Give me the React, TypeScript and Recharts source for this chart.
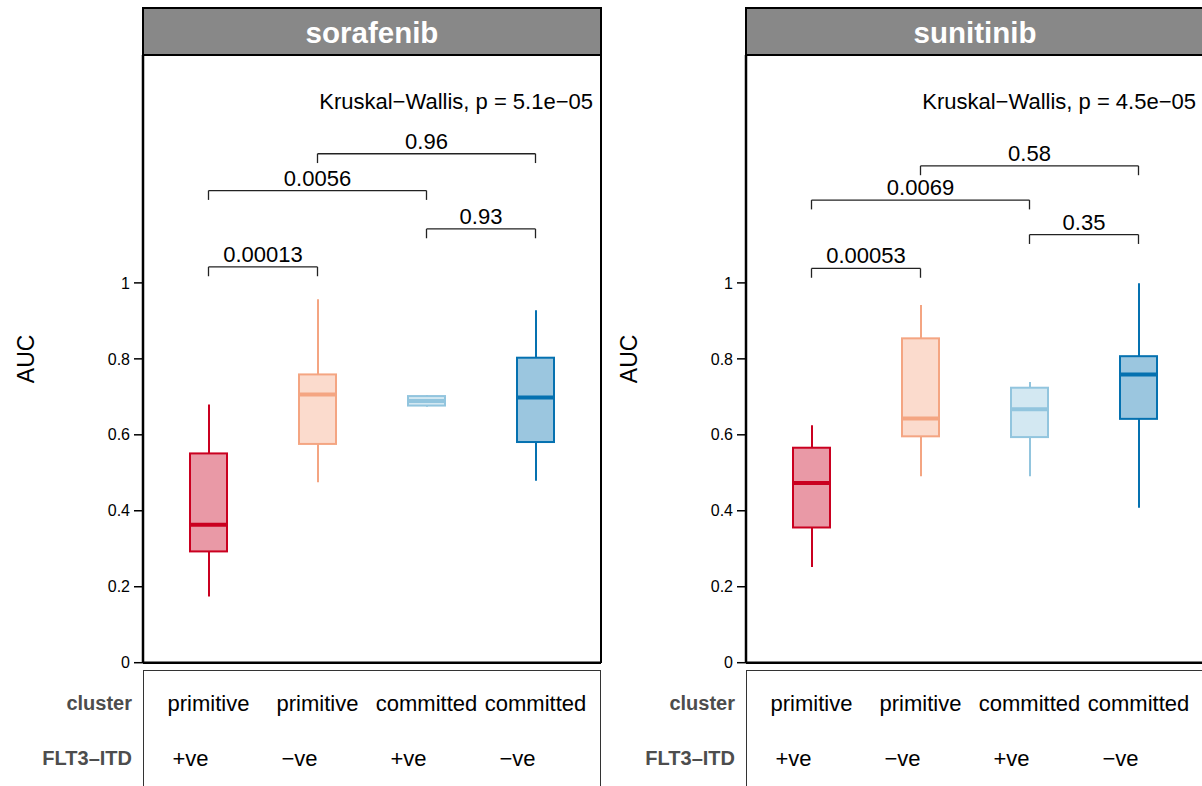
import React from "react";
import { ComposedChart, Bar, Scatter, XAxis, YAxis, ReferenceLine, Cell } from "recharts";

// groups along the x axis
const groups = ["primitive +ve", "primitive \u2212ve", "committed +ve", "committed \u2212ve"];
const clusterLabels = ["primitive", "primitive", "committed", "committed"];
const flt3Labels = ["+ve", "\u2212ve", "+ve", "\u2212ve"];
const yTicks = [0, 0.2, 0.4, 0.6, 0.8, 1];

// sorafenib AUC: whisker ends, hinges and medians per group
const sorafenibMin = [0.174, 0.475, 0.674, 0.479];
const sorafenibQ1 = [0.293, 0.576, 0.677, 0.581];
const sorafenibMedian = [0.363, 0.706, 0.689, 0.698];
const sorafenibQ3 = [0.551, 0.759, 0.702, 0.803];
const sorafenibMax = [0.68, 0.957, 0.705, 0.928];

// sunitinib AUC
const sunitinibMin = [0.252, 0.491, 0.491, 0.408];
const sunitinibQ1 = [0.356, 0.596, 0.594, 0.642];
const sunitinibMedian = [0.473, 0.643, 0.667, 0.759];
const sunitinibQ3 = [0.566, 0.854, 0.724, 0.807];
const sunitinibMax = [0.625, 0.942, 0.739, 0.999];

// pairwise comparisons (group indices), p values and bracket heights
const pairFrom = [0, 2, 0, 1];
const pairTo = [1, 3, 2, 3];
const sorafenibPairP = ["0.00013", "0.93", "0.0056", "0.96"];
const sorafenibPairY = [1.042, 1.142, 1.243, 1.34];
const sunitinibPairP = ["0.00053", "0.35", "0.0069", "0.58"];
const sunitinibPairY = [1.038, 1.127, 1.218, 1.308];

const sorafenibKruskal = "Kruskal\u2212Wallis, p = 5.1e\u221205";
const sunitinibKruskal = "Kruskal\u2212Wallis, p = 4.5e\u221205";
const kruskalY = 1.478;

const lineColors = ["#CA0020", "#F4A582", "#92C5DE", "#0571B0"];
const fillColors = ["#E999A6", "#FBDBCD", "#D3E8F2", "#9BC6DF"];

const W = 610;
const H = 786;
const PLOT_LEFT = 143;
const PLOT_RIGHT = 601;
const PLOT_TOP = 55;
const PLOT_BOTTOM = 662.7;
const BOX_W = 37;
const X_PAD = 11;
const TICK_DROP = 0.0245;
const TEXT_SIZE = 22;
const FONT = "'Liberation Sans', Arial, Helvetica, sans-serif";

const boxShape = (props: any) => {
  const { x, y, width, height, payload } = props;
  const i = groups.indexOf(payload.group);
  const top = Math.min(y, y + height);
  return (
    <rect x={x} y={top} width={width} height={Math.abs(height)} fill={fillColors[i]} stroke={lineColors[i]} strokeWidth={2} />
  );
};

const medianShape = (props: any) => {
  const { cx, cy, payload } = props;
  const i = groups.indexOf(payload.group);
  return <line x1={cx - BOX_W / 2} x2={cx + BOX_W / 2} y1={cy} y2={cy} stroke={lineColors[i]} strokeWidth={4} />;
};

// the cluster / FLT3-ITD table rows hang off the bottom axis ticks
const tableTick = (props: any) => {
  const { x, y, payload } = props;
  const i = groups.indexOf(payload?.value);
  if (i < 0) return <g />;
  return (
    <g>
      <text x={x} y={y + 40.3} textAnchor="middle" dominantBaseline="central" fontSize={TEXT_SIZE} fill="#000">
        {clusterLabels[i]}
      </text>
      <text x={x - 18} y={y + 95.3} textAnchor="middle" dominantBaseline="central" fontSize={TEXT_SIZE} fill="#000">
        {flt3Labels[i]}
      </text>
    </g>
  );
};

const axisTitle = (props: any) => {
  const vb = props.viewBox;
  const cx = vb.x + 26;
  const cy = vb.y + vb.height / 2;
  return (
    <text x={cx} y={cy} transform={`rotate(-90 ${cx} ${cy})`} textAnchor="middle" dominantBaseline="central" fontSize={23} fill="#000">
      AUC
    </text>
  );
};

const rowLabel = (centerY: number): React.CSSProperties => ({
  position: "absolute",
  left: 0,
  width: 132,
  top: centerY - 12,
  height: 24,
  lineHeight: "24px",
  textAlign: "right",
  fontWeight: "bold",
  fontSize: 20,
  color: "#4D4D4D",
});

type PanelProps = {
  title: string;
  left: number;
  min: number[];
  q1: number[];
  median: number[];
  q3: number[];
  max: number[];
  pairP: string[];
  pairY: number[];
  kruskal: string;
};

function Panel({ title, left, min, q1, median, q3, max, pairP, pairY, kruskal }: PanelProps) {
  const rows = groups.map((g, i) => ({
    group: g,
    whisker: [min[i], max[i]],
    box: [q1[i], q3[i]],
    median: median[i],
  }));

  return (
    <div style={{ position: "absolute", left, top: 0, width: W, height: H }}>
      {/* table underneath the plot */}
      <div
        style={{
          position: "absolute",
          left: PLOT_LEFT,
          top: 669.5,
          width: PLOT_RIGHT - PLOT_LEFT,
          height: 200,
          border: "1.3px solid #333",
          boxSizing: "border-box",
          background: "#fff",
        }}
      />
      <div style={rowLabel(703)}>cluster</div>
      <div style={rowLabel(758)}>FLT3{"\u2013"}ITD</div>

      <div style={{ position: "absolute", left: 0, top: 0 }}>
        <ComposedChart
          width={W}
          height={H}
          data={rows}
          margin={{ top: PLOT_TOP, right: W - PLOT_RIGHT, bottom: 0, left: 0 }}
        >
          <XAxis
            xAxisId="main"
            dataKey="group"
            type="category"
            height={H - PLOT_BOTTOM}
            padding={{ left: X_PAD, right: X_PAD }}
            axisLine={{ stroke: "#000", strokeWidth: 2.5 }}
            tickLine={false}
            tickSize={0}
            tickMargin={0}
            interval={0}
            tick={tableTick}
          />
          <XAxis xAxisId="wh" dataKey="group" type="category" hide padding={{ left: X_PAD, right: X_PAD }} />
          <YAxis
            domain={[0, 1.6]}
            ticks={yTicks}
            interval={0}
            width={PLOT_LEFT}
            tickFormatter={(v: number) => String(v)}
            tick={{ fontSize: 16, fill: "#000" }}
            tickLine={{ stroke: "#000", strokeWidth: 1.5 }}
            axisLine={{ stroke: "#000", strokeWidth: 2.5 }}
            tickSize={9}
            tickMargin={4}
            label={axisTitle}
          />

          <Bar xAxisId="wh" dataKey="whisker" barSize={2} isAnimationActive={false}>
            {rows.map((r, i) => (
              <Cell key={r.group} fill={lineColors[i]} />
            ))}
          </Bar>
          <Bar xAxisId="main" dataKey="box" barSize={BOX_W} isAnimationActive={false} shape={boxShape} />
          <Scatter xAxisId="main" dataKey="median" isAnimationActive={false} shape={medianShape} />

          {pairFrom.map((a, k) => {
            const b = pairTo[k];
            const h = pairY[k];
            return (
              <React.Fragment key={k}>
                <ReferenceLine
                  xAxisId="main"
                  segment={[{ x: groups[a], y: h }, { x: groups[b], y: h }]}
                  stroke="#222"
                  strokeWidth={1.3}
                  label={{ value: pairP[k], position: "top", offset: 5, fontSize: TEXT_SIZE, fill: "#000" }}
                />
                <ReferenceLine
                  xAxisId="main"
                  segment={[{ x: groups[a], y: h }, { x: groups[a], y: h - TICK_DROP }]}
                  stroke="#222"
                  strokeWidth={1.3}
                />
                <ReferenceLine
                  xAxisId="main"
                  segment={[{ x: groups[b], y: h }, { x: groups[b], y: h - TICK_DROP }]}
                  stroke="#222"
                  strokeWidth={1.3}
                />
              </React.Fragment>
            );
          })}

          <ReferenceLine
            xAxisId="main"
            y={kruskalY}
            stroke="none"
            label={{ value: kruskal, position: "insideRight", offset: 8, fontSize: TEXT_SIZE, fill: "#000" }}
          />
        </ComposedChart>
      </div>

      {/* panel frame and facet strip */}
      <div
        style={{
          position: "absolute",
          left: PLOT_LEFT,
          top: PLOT_TOP,
          width: PLOT_RIGHT - PLOT_LEFT + 1,
          height: PLOT_BOTTOM - PLOT_TOP,
          borderRight: "2px solid #000",
          boxSizing: "border-box",
          pointerEvents: "none",
        }}
      />
      <div
        style={{
          position: "absolute",
          left: PLOT_LEFT - 1,
          top: 7,
          width: PLOT_RIGHT - PLOT_LEFT + 2,
          height: 49,
          border: "2px solid #000",
          boxSizing: "border-box",
          background: "#888888",
          color: "#fff",
          fontWeight: "bold",
          fontSize: 29.5,
          lineHeight: "47px",
          textAlign: "center",
        }}
      >
        {title}
      </div>
    </div>
  );
}

export default function App() {
  return (
    <div
      style={{
        position: "fixed",
        left: 0,
        top: 0,
        width: 1202,
        height: 786,
        overflow: "hidden",
        background: "#fff",
        fontFamily: FONT,
      }}
    >
      <Panel
        title="sorafenib"
        left={0}
        min={sorafenibMin}
        q1={sorafenibQ1}
        median={sorafenibMedian}
        q3={sorafenibQ3}
        max={sorafenibMax}
        pairP={sorafenibPairP}
        pairY={sorafenibPairY}
        kruskal={sorafenibKruskal}
      />
      <Panel
        title="sunitinib"
        left={603}
        min={sunitinibMin}
        q1={sunitinibQ1}
        median={sunitinibMedian}
        q3={sunitinibQ3}
        max={sunitinibMax}
        pairP={sunitinibPairP}
        pairY={sunitinibPairY}
        kruskal={sunitinibKruskal}
      />
    </div>
  );
}
